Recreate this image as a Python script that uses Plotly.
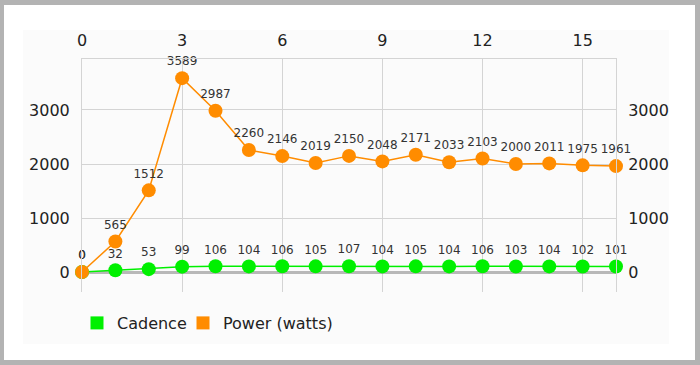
import plotly.graph_objects as go

# ---- data ----
x_index = list(range(17))
cadence = [0, 32, 53, 99, 106, 104, 106, 105, 107, 104, 105, 104, 106, 103, 104, 102, 101]
power = [0, 565, 1512, 3589, 2987, 2260, 2146, 2019, 2150, 2048, 2171, 2033, 2103, 2000, 2011, 1975, 1961]
series_names = ["Cadence", "Power (watts)"]
x_ticks = [0, 3, 6, 9, 12, 15]
y_ticks = [0, 1000, 2000, 3000]

GREEN = "#00f000"
ORANGE = "#ff8c00"
FONT = "DejaVu Sans"
W, H = 700, 365
L, R, T, B = 82, 84, 59, 73
PW, PH = W - L - R, H - T - B


def px_x(p):
    return (p - L) / PW


def px_y(p):
    return (H - B - p) / PH


fig = go.Figure()

fig.add_trace(go.Scatter(
    x=x_index, y=cadence, mode="lines+markers+text", name=series_names[0],
    text=[str(v) for v in cadence], textposition="top center",
    textfont=dict(family=FONT, size=12, color="#333333"),
    line=dict(color=GREEN, width=1.5), marker=dict(color=GREEN, size=14),
    showlegend=False, cliponaxis=False,
))
fig.add_trace(go.Scatter(
    x=x_index, y=power, mode="lines+markers+text", name=series_names[1],
    text=[str(v) for v in power], textposition="top center",
    textfont=dict(family=FONT, size=12, color="#333333"),
    line=dict(color=ORANGE, width=1.5), marker=dict(color=ORANGE, size=14),
    showlegend=False, cliponaxis=False,
))
# helper trace so the right axis renders
fig.add_trace(go.Scatter(
    x=x_index, y=power, yaxis="y2", mode="markers",
    marker=dict(opacity=0), showlegend=False, hoverinfo="skip",
))
# legend entries with square swatches
for nm, col, lg in zip(series_names, [GREEN, ORANGE], ["legend", "legend2"]):
    fig.add_trace(go.Scatter(
        x=[None], y=[None], mode="markers", name=nm, legend=lg,
        marker=dict(symbol="square", size=13, color=col),
    ))

yr = [-370, 3944]
grid = "#d4d4d4"
legend_style = dict(
    orientation="h", xanchor="left", y=px_y(323), yanchor="middle",
    font=dict(family=FONT, size=16, color="#222222"),
    bgcolor="rgba(0,0,0,0)", itemclick=False,
)

fig.update_layout(
    width=W, height=H,
    margin=dict(l=L, r=R, t=T, b=B, pad=0),
    paper_bgcolor="#b3b3b3",
    plot_bgcolor="rgba(0,0,0,0)",
    font=dict(family=FONT, size=16, color="#222222"),
    xaxis=dict(
        side="top", range=[0, 16], tickvals=x_ticks, showgrid=True,
        gridcolor=grid, gridwidth=1, zeroline=False,
        showline=True, linecolor=grid, linewidth=1,
        ticks="", ticklabelstandoff=6,
        tickfont=dict(family=FONT, size=16, color="#222222"),
    ),
    yaxis=dict(
        range=yr, tickvals=y_ticks, showgrid=True, gridcolor=grid,
        zeroline=True, zerolinecolor="#b8b8b8", zerolinewidth=2.5,
        showline=True, linecolor=grid, linewidth=1,
        ticks="", ticklabelstandoff=8,
        tickfont=dict(family=FONT, size=16, color="#222222"),
    ),
    yaxis2=dict(
        overlaying="y", side="right", range=yr, tickvals=y_ticks,
        showgrid=False, zeroline=False,
        showline=True, linecolor=grid, linewidth=1,
        ticks="", ticklabelstandoff=8,
        tickfont=dict(family=FONT, size=16, color="#222222"),
    ),
    legend=dict(x=px_x(77), **legend_style),
    legend2=dict(x=px_x(183), **legend_style),
    shapes=[
        dict(type="rect", xref="paper", yref="paper", layer="below",
             x0=px_x(4), x1=px_x(695), y0=px_y(360), y1=px_y(5),
             fillcolor="#ffffff", line=dict(width=0)),
        dict(type="rect", xref="paper", yref="paper", layer="below",
             x0=px_x(23), x1=px_x(669), y0=px_y(344), y1=px_y(30),
             fillcolor="#fbfbfb", line=dict(width=0)),
    ],
    hovermode=False,
)

fig.write_html(
    "out.html",
    config={"displayModeBar": False},
    post_script="document.body.style.margin='0';document.body.style.overflow='hidden';",
)
